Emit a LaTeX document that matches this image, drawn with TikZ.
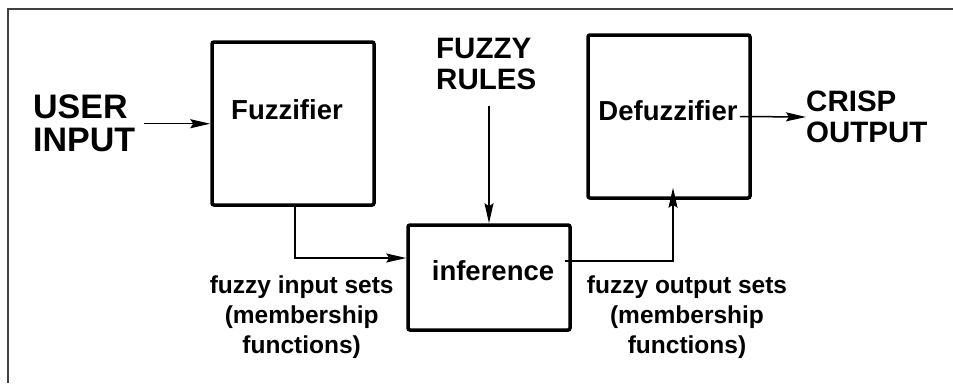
\documentclass[tikz,border=0pt]{standalone}
\usepackage{fontspec}
\setmainfont{Liberation Sans}
\usetikzlibrary{arrows.meta}
\newcommand\usertxt{\fontsize{34}{33}\selectfont\bfseries}
\newcommand\headtxt{\fontsize{29.5}{31}\selectfont\bfseries}
\newcommand\boxtxt{\fontsize{27.5}{30}\selectfont\bfseries}
\newcommand\settxt{\fontsize{24.5}{30}\selectfont\bfseries}

\begin{document}
\begin{tikzpicture}[x=1pt, y=-1pt,
  box/.style={draw, line width=3.5pt, rounded corners=2pt, minimum width=162pt, inner sep=0pt},
  arr/.style={line width=1.5pt, -{Stealth[length=20pt, width=9pt, inset=3pt]}},
  lbl/.style={inner sep=0pt, align=center, font=\settxt}]
\useasboundingbox (0,0) rectangle (953,383);
\draw [line width=2.5pt, draw=black!75] (8,383) |- (953,9);
\node[box, minimum height=163pt, label={[xshift=-6pt, yshift=14pt]center:{\boxtxt Fuzzifier}}](fuzz) at (293,123.5) {};
\node[box, minimum height=105pt, label={[xshift=4pt, yshift=6.5pt]center:{\boxtxt inference}}](inf) at (489,277.5) {};
\node[box, minimum height=163pt, label={[xshift=-1pt, yshift=5.5pt]center:{\boxtxt Defuzzifier}}](defuzz) at (669,116.5) {};
\node[anchor=north west, inner sep=0pt, align=left, font=\usertxt](user) at (33,95) {USER\\INPUT};
\node[anchor=north west, inner sep=0pt, align=left, font=\headtxt](rules) at (436,38) {FUZZY\\RULES};
\node[anchor=west, inner sep=0pt, align=left, font=\headtxt](crisp) at (806,117) {CRISP\\OUTPUT};
\coordinate (rulesout) at ([yshift=-16pt]rules.south);
\draw [arr] ([xshift=9pt]user.east) -- (fuzz.west |- user.east);
\draw [arr] (rulesout -| inf.north) -- (inf.north);
\draw [arr] ([xshift=2pt]fuzz.south) |- ([yshift=19.5pt]inf.west) node[lbl, below=17pt, pos=.53]{fuzzy input sets\\(membership\\functions)};
\draw [arr] ([xshift=-7pt, yshift=16.5pt]inf.east) -| ([xshift=4pt, yshift=12pt]defuzz.south) node[lbl, below=14pt, xshift=14pt, pos=.5]{fuzzy output sets\\(membership\\functions)};
\draw [arr] ([xshift=-12pt]defuzz.east) -- (crisp.west);
\end{tikzpicture}
\end{document}
